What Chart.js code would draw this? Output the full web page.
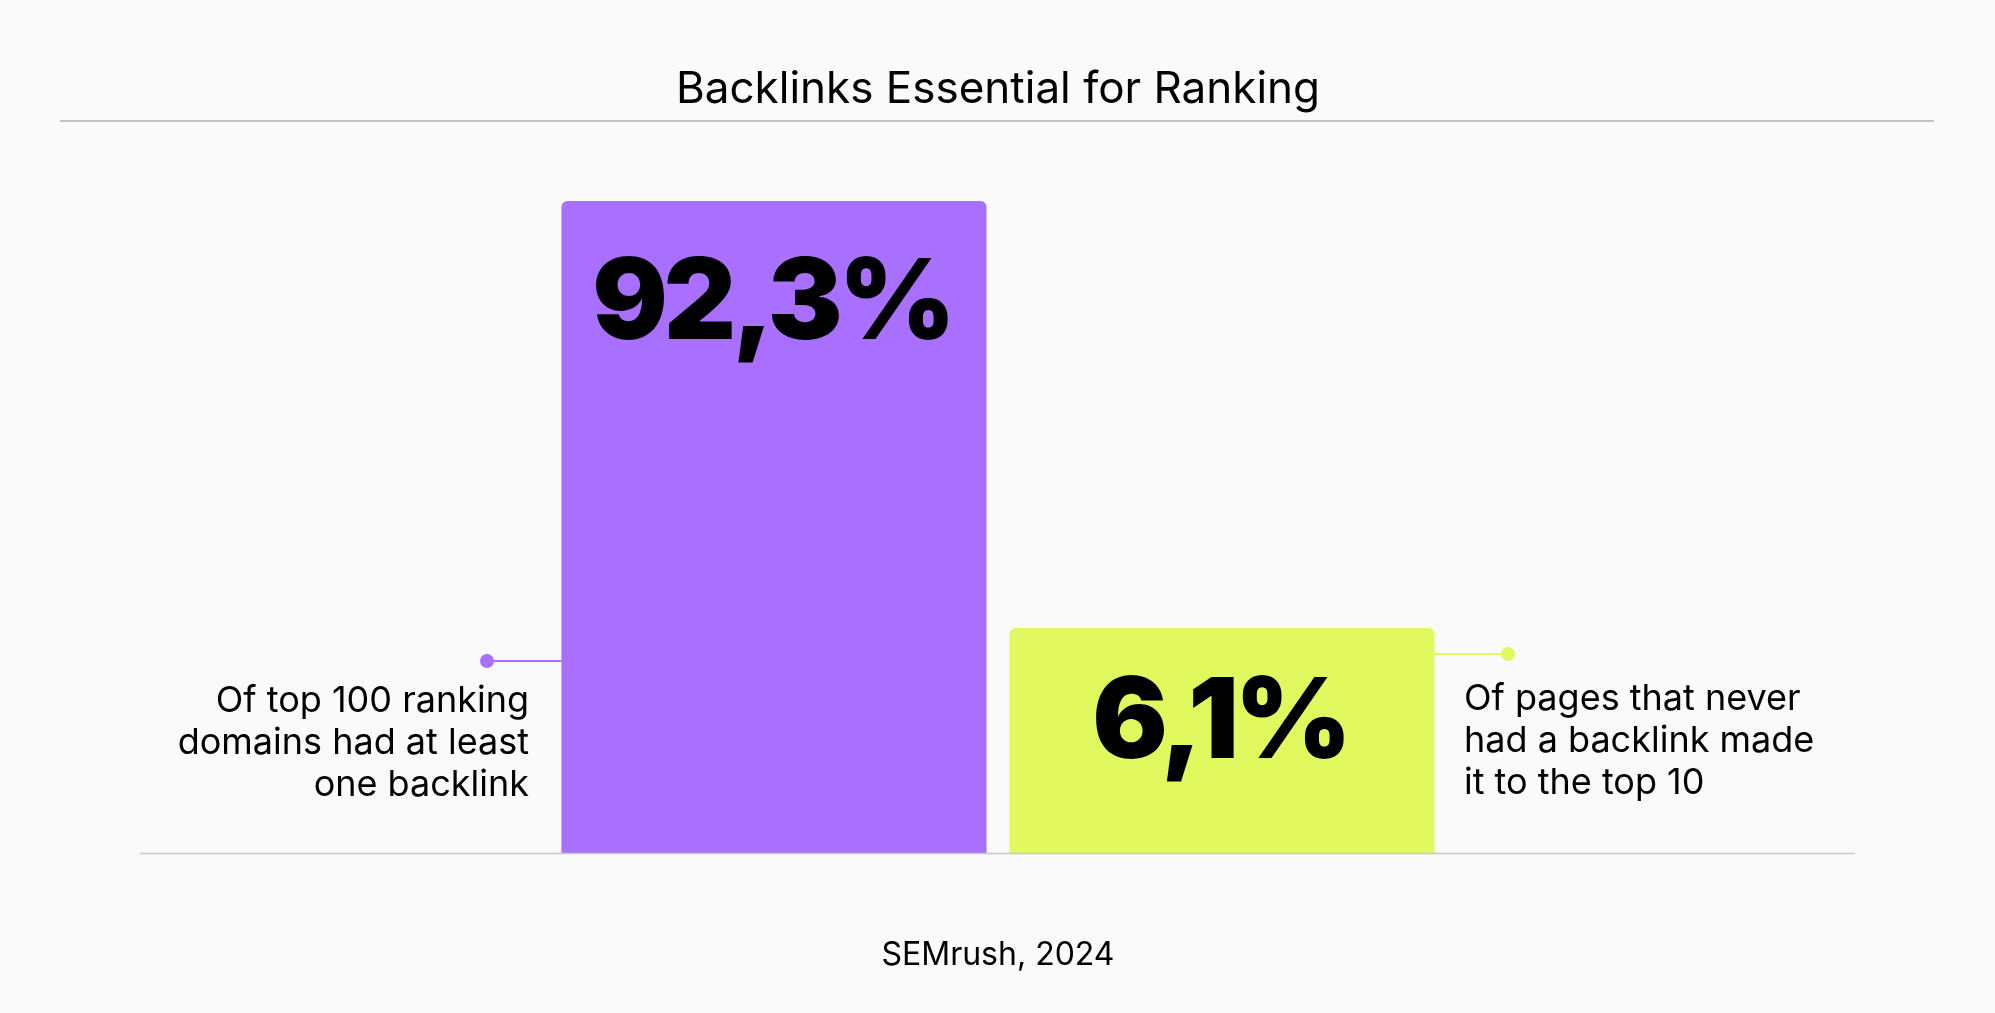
<!DOCTYPE html>
<html>
<head>
<meta charset="utf-8">
<script src="https://cdn.jsdelivr.net/npm/chart.js@4.4.1/dist/chart.umd.min.js"></script>
<style>
  html, body { margin: 0; padding: 0; background: #fafafa; }
  #wrap { width: 1995px; height: 1013px; position: relative; }
</style>
</head>
<body>
<div id="wrap"><canvas id="grafico"></canvas></div>
<script>
// datos
const categorias = ["Dominios top 100 con backlink", "Páginas sin backlink en top 10"];
const valores = [92.3, 6.1];
const etiquetas = ["92,3%", "6,1%"];
const notas = [
    ["Of top 100 ranking", "domains had at least", "one backlink"],
    ["Of pages that never", "had a backlink made", "it to the top 10"]
];
const titulo = "Backlinks Essential for Ranking";
const fuente = "SEMrush, 2024";
const colores = ["#a970ff", "#e1f95f"];

const FONT = "Inter, 'Noto Sans', sans-serif";

// textos, líneas y puntos alrededor de las barras
const extras = {
    id: 'extras',
    afterDraw(chart) {
        const ctx = chart.ctx;
        const area = chart.chartArea;
        const meta = chart.getDatasetMeta(0);
        const b1 = meta.data[0], b2 = meta.data[1];
        ctx.save();

        // título y su línea
        ctx.fillStyle = '#000';
        ctx.textAlign = 'center';
        ctx.textBaseline = 'alphabetic';
        ctx.font = `400 44px ${FONT}`;
        ctx.fillText(titulo, 998, 103);
        ctx.strokeStyle = '#c4c4c4';
        ctx.lineWidth = 2;
        ctx.beginPath(); ctx.moveTo(60, 121); ctx.lineTo(1934, 121); ctx.stroke();

        // línea base
        ctx.strokeStyle = '#c8c8c8';
        ctx.lineWidth = 1.5;
        ctx.beginPath(); ctx.moveTo(140, area.bottom + 0.5); ctx.lineTo(1855, area.bottom + 0.5); ctx.stroke();

        // valores grandes dentro de las barras
        ctx.font = `900 112px ${FONT}`;
        ctx.fillStyle = '#000';
        ctx.letterSpacing = '-4px';
        meta.data.forEach((bar, i) => {
            ctx.fillText(etiquetas[i], bar.x - 2, bar.y + (i === 0 ? 138 : 130));
        });
        ctx.letterSpacing = '0px';

        // conectores
        const izq = b1.x - b1.width / 2;
        const der = b2.x + b2.width / 2;
        ctx.lineWidth = 2;
        ctx.strokeStyle = colores[0];
        ctx.fillStyle = colores[0];
        ctx.beginPath(); ctx.moveTo(487, 661); ctx.lineTo(izq, 661); ctx.stroke();
        ctx.beginPath(); ctx.arc(487, 661, 7, 0, Math.PI * 2); ctx.fill();
        ctx.strokeStyle = colores[1];
        ctx.fillStyle = colores[1];
        ctx.beginPath(); ctx.moveTo(der, 654); ctx.lineTo(1508, 654); ctx.stroke();
        ctx.beginPath(); ctx.arc(1508, 654, 7, 0, Math.PI * 2); ctx.fill();

        // notas
        ctx.fillStyle = '#000';
        ctx.font = `400 36px ${FONT}`;
        ctx.textAlign = 'right';
        notas[0].forEach((t, i) => ctx.fillText(t, 529, 712 + i * 42));
        ctx.textAlign = 'left';
        notas[1].forEach((t, i) => ctx.fillText(t, 1464, 710 + i * 42));

        // fuente
        ctx.textAlign = 'center';
        ctx.font = `400 32px ${FONT}`;
        ctx.fillText(fuente, 998, 965);
        ctx.restore();
    }
};

new Chart(document.getElementById('grafico'), {
    type: 'bar',
    data: {
        labels: categorias,
        datasets: [{
            data: valores,
            backgroundColor: colores,
            borderRadius: { topLeft: 6, topRight: 6 },
            borderSkipped: 'start',
            categoryPercentage: 1,
            barPercentage: 0.949
        }]
    },
    options: {
        responsive: true,
        maintainAspectRatio: false,
        animation: false,
        layout: { padding: { left: 550, right: 549, top: 201, bottom: 160 } },
        plugins: { legend: { display: false }, tooltip: { enabled: false } },
        scales: {
            x: { display: false },
            y: { type: 'logarithmic', display: false, min: 1.458, max: 92.3, bounds: 'data' }
        }
    },
    plugins: [extras]
});
</script>
</body>
</html>
